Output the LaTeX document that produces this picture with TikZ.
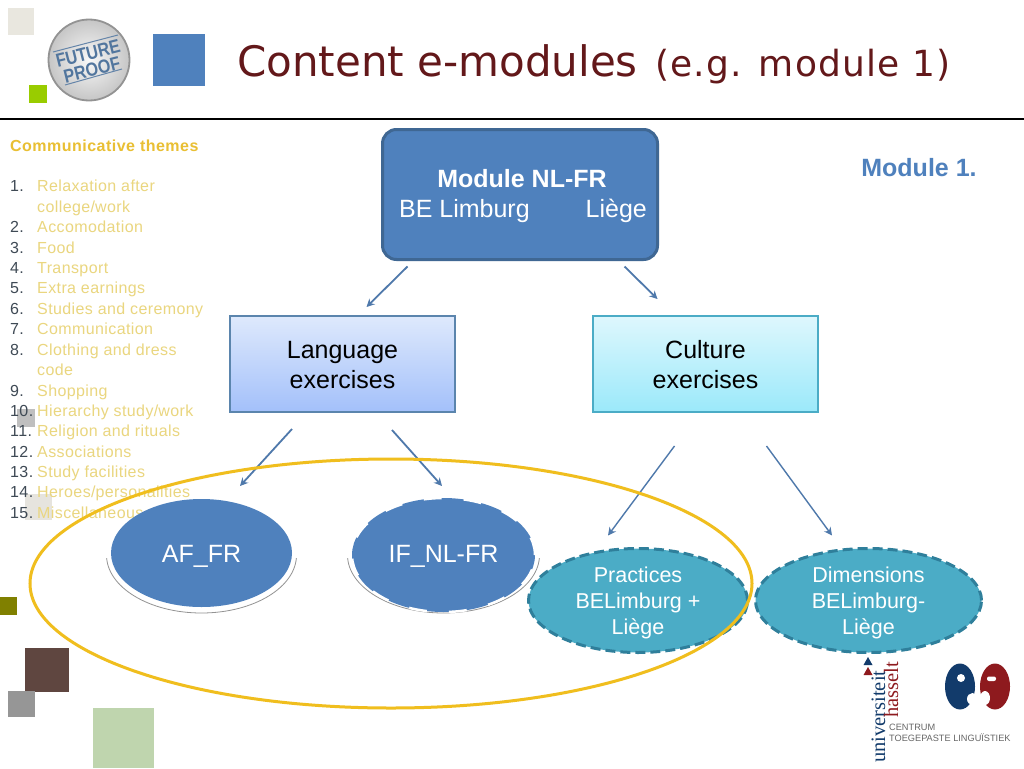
\documentclass[tikz,border=0pt]{standalone}
\usepackage{fontspec}
\usetikzlibrary{shapes.geometric,calc,arrows.meta}
\setmainfont{Liberation Sans}
\newfontfamily\lspfont[LetterSpace=2.5]{Liberation Sans}
\newfontfamily\lspbold[LetterSpace=3]{Liberation Sans Bold}
\newfontfamily\titlefont{DejaVu Sans}
\newfontfamily\titlewide[LetterSpace=3.4]{DejaVu Sans}
\newfontfamily\serifuni{Liberation Serif}
\newcommand{\lowered}[2]{\raisebox{-#1}[\height][\depth]{#2}}
\definecolor{blueA}{HTML}{4F81BD}
\definecolor{blueB}{HTML}{3F6793}
\definecolor{tealA}{HTML}{4BACC6}
\definecolor{tealB}{HTML}{2F7F9B}
\definecolor{arrowc}{HTML}{4F79AB}
\definecolor{titlec}{HTML}{63181A}
\definecolor{goldA}{HTML}{F0BE1E}
\definecolor{headc}{HTML}{E9BF33}
\definecolor{itemc}{HTML}{EAD67F}
\definecolor{numc}{HTML}{3F4A55}
\definecolor{navyu}{HTML}{123B6B}
\definecolor{redu}{HTML}{8E1A1E}
\tikzset{
  sq/.style={draw=none},
  arrowline/.style={draw=arrowc,line width=1.8pt,-{Stealth[length=8pt,width=8pt]}},
  ell/.style={ellipse,inner sep=0pt,outer sep=0pt,align=center,text=white},
  rbox/.style={rectangle,inner sep=0pt,outer sep=0pt,minimum width=225pt,minimum height=96pt,align=center,line width=2pt,font=\fontsize{25}{30}\selectfont},
  numtxt/.style={anchor=base west,inner sep=0pt,text=numc,font=\fontsize{16}{20}\lspfont},
  itemtxt/.style={anchor=base west,inner sep=0pt,text=itemc,font=\fontsize{16}{20}\lspfont},
  smalltxt/.style={anchor=base west,inner sep=0pt,text=black!60,font=\fontsize{9.2}{11}\selectfont},
}
\begin{document}
\begin{tikzpicture}[x=1pt,y=-1pt]
\useasboundingbox (0,0) rectangle (1024,768);
\fill[white] (0,0) rectangle (1024,768);
% decorative squares
\fill[sq,fill={rgb,255:red,233;green,231;blue,223}] (8,8) rectangle (34,35);
\fill[sq,fill={rgb,255:red,153;green,204;blue,0}] (29,85) rectangle (47,103);
\fill[sq,fill=blueA] (153,34) rectangle (205,86);
\fill[sq,fill={rgb,255:red,191;green,191;blue,191}] (17,409) rectangle (35,427);
\fill[sq,fill={rgb,255:red,230;green,228;blue,222}] (25,494) rectangle (52,520);
\fill[sq,fill={rgb,255:red,128;green,128;blue,0}] (0,597) rectangle (17,615);
\fill[sq,fill={rgb,255:red,95;green,70;blue,64}] (25,648) rectangle (69,692);
\fill[sq,fill={rgb,255:red,150;green,150;blue,150}] (8,691) rectangle (35,717);
\fill[sq,fill={rgb,255:red,191;green,213;blue,174}] (93,708) rectangle (154,768);
% title rule
\draw[black,line width=2pt] (0,118.5) -- (1024,118.5);
% future proof logo
\shade[inner color=white!95!gray,outer color=gray!45,draw=gray!85,line width=1.8pt] (89,60) circle (40.5);
\draw[blueB!80,line width=1pt] (53,52) -- (118,35);
\draw[blueB!80,line width=1pt] (65,85) -- (122,69);
\node[rotate=14,inner sep=0pt,text=blueB!90] (fp1) at (88,53.5) {\fontsize{19}{19}\bfseries\selectfont\scalebox{.85}[1]{FUTURE}};
\node[rotate=14,inner sep=0pt,text=blueB!90] (fp2) at (92,70) {\fontsize{19}{19}\bfseries\selectfont\scalebox{.85}[1]{PROOF}};
% title
\node[anchor=base west,inner sep=0pt,text=titlec] (title) at (237,77) {\titlefont\fontsize{42}{42}\selectfont Content e-modules};
\node[anchor=base west,inner sep=0pt,text=titlec] (titleb) at (655,77) {\titlewide\fontsize{36}{36}\selectfont (e.g. module 1)};
% list
\node[anchor=base west,inner sep=0pt,text=headc,font=\fontsize{16}{20}\lspbold] (head) at (10,151) {Communicative themes};
\foreach \k/\y/\n/\t in {a/191.5/1./Relaxation after,b/212/{}/college\slash work,c/232.5/2./Accomodation,d/253/3./Food,e/273/4./Transport,f/293.5/5./Extra earnings,g/314/6./Studies and ceremony,h/334.5/7./Communication,i/355/8./Clothing and dress,j/375/{}/code,k/396/9./Shopping,l/416/10./Hierarchy study\slash work,m/436.5/11./Religion and rituals,n/457/12./Associations,o/477/13./Study facilities,p/497.5/14./Heroes\slash personalities,q/518/15./Miscellaneous}{
  \node[numtxt] (num\k) at (10,\y) {\n};
  \node[itemtxt] (item\k) at (37,\y) {\t};
}
% module label
\node[anchor=base,inner sep=0pt,text=blueA,font=\fontsize{25}{30}\bfseries\selectfont] (modone) at (919,176) {Module 1.};
% main nodes
\node[rectangle,rounded corners=14pt,draw=blueB,fill=blueA,line width=3pt,minimum width=275pt,minimum height=130pt,inner sep=0pt,outer sep=0pt,text=white,align=center,font=\fontsize{25}{30}\selectfont] (module) at (520,194.5) {\lowered{2pt}{\hspace*{4pt}\textbf{Module NL-FR}}\\\lowered{2pt}{\hspace*{6pt}BE Limburg\hspace{56pt}Liège}};
\node[rbox,draw={rgb,255:red,91;green,133;blue,173},top color={rgb,255:red,222;green,233;blue,252},bottom color={rgb,255:red,163;green,192;blue,250}] (lang) at (342.5,364) {\lowered{1pt}{Language}\\\lowered{1pt}{exercises}};
\node[rbox,draw=tealA,top color={rgb,255:red,222;green,247;blue,253},bottom color={rgb,255:red,155;green,233;blue,250}] (cult) at (705.5,364) {\lowered{1pt}{Culture}\\\lowered{1pt}{exercises}};
% shadow arcs
\begin{scope}
\clip (90,558) rectangle (560,640);
\draw[gray!85,line width=.8pt] (201.5,555) ellipse [x radius=95,y radius=58];
\draw[gray!85,line width=.8pt] (443.5,555) ellipse [x radius=96,y radius=58];
\end{scope}
\node[ell,fill=blueA,minimum width=181pt,minimum height=108pt,font=\fontsize{25}{30}\selectfont] (af) at (201.5,553) {\lowered{3pt}{AF\_FR}};
\node[ell,fill=blueA,draw=white,dash pattern=on 18pt off 22pt,line width=2.5pt,minimum width=183pt,minimum height=114pt,font=\fontsize{25}{30}\selectfont] (if) at (443.5,555) {\lowered{1pt}{IF\_NL-FR}};
\node[ell,fill=tealA,draw=tealB,dash pattern=on 10pt off 5pt,line width=3pt,minimum width=219pt,minimum height=104pt,font=\fontsize{21.5}{26}\selectfont] (prac) at (638,600.5) {\lowered{2pt}{Practices}\\\lowered{2pt}{BELimburg +}\\\lowered{2pt}{Liège}};
\node[ell,fill=tealA,draw=tealB,dash pattern=on 10pt off 5pt,line width=3pt,minimum width=226pt,minimum height=104pt,font=\fontsize{21.5}{26}\selectfont] (dim) at (868.5,600.5) {\lowered{2pt}{Dimensions}\\\lowered{2pt}{BELimburg-}\\\lowered{2pt}{Liège}};
% arrows
\draw[arrowline] ($(module.south west)+(25,7)$) -- ($(lang.north)+(24,-9)$);
\draw[arrowline] ($(module.south east)+(-33,7)$) -- ($(cult.north)+(-48,-17)$);
\draw[arrowline] ($(lang.south west)+(62,17)$) -- ($(af.north)+(38.5,-13)$);
\draw[arrowline] ($(lang.south east)+(-63,18)$) -- ($(if.north)+(-1.5,-12)$);
\draw[arrowline,line width=1.4pt] ($(cult.south)+(-31,34)$) -- ($(prac.north)+(-30,-13)$);
\draw[arrowline,line width=1.4pt] ($(cult.south)+(61,34)$) -- ($(dim.north)+(-36.5,-13)$);
% yellow ellipse
\draw[goldA,line width=3pt] (391,583.5) ellipse [x radius=361,y radius=124.5];
% hasselt logo
\fill[navyu] (863.5,665) -- (868,657) -- (872.5,665) -- cycle;
\fill[redu] (863.5,675) -- (868,667) -- (872.5,675) -- cycle;
\node[rotate=90,anchor=base west,inner sep=0pt,text=navyu,font=\fontsize{20.5}{20.5}\serifuni] (uni) at (885,763) {universiteit};
\node[rotate=90,anchor=base west,inner sep=0pt,text=redu,font=\fontsize{20.5}{20.5}\serifuni] (has) at (898,718) {hasselt};
\fill[navyu] (960,686.5) ellipse [x radius=15,y radius=23];
\fill[redu] (995,686.5) ellipse [x radius=15,y radius=23];
\fill[white] (961,678) circle (4);
\fill[white,rounded corners=2pt] (987,676.5) rectangle (996,681);
\fill[white] (972.5,699) ellipse [x radius=5.5,y radius=6];
\fill[white] (985,698) ellipse [x radius=5,y radius=7];
\node[smalltxt] (cen) at (889,730) {CENTRUM};
\node[smalltxt] (toe) at (889,741) {TOEGEPASTE LINGUÏSTIEK};
\end{tikzpicture}
\end{document}
